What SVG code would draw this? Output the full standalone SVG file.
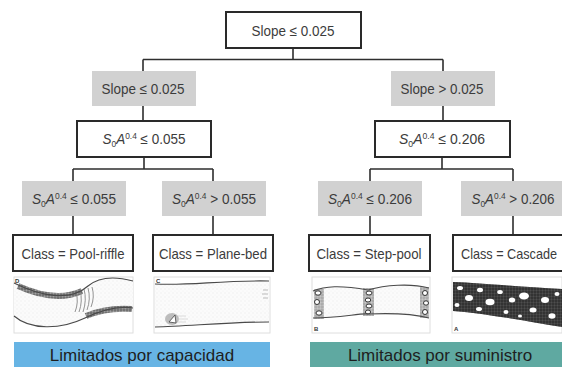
<svg xmlns="http://www.w3.org/2000/svg" width="562" height="367" viewBox="0 0 562 367">
  <style>
    .box { fill: #ffffff; stroke: #2a2a2a; stroke-width: 2; }
    .cond { fill: #d1d1d1; stroke: none; }
    .lbl { font-family: "Liberation Sans", Arial, sans-serif; font-size: 14.5px; fill: #3c3c3c; text-anchor: middle; }
    .it { font-style: italic; }
    .sm { font-size: 9px; }
    .wire { fill: none; stroke: #2e2e2e; stroke-width: 1.6; }
    .frame { fill: #ffffff; stroke: #dedede; stroke-width: 1; }
    .bank { fill: none; stroke: #4a4a4a; stroke-width: 1.1; }
    .tag { font-family: "Liberation Sans", Arial, sans-serif; font-size: 6px; font-weight: bold; fill: #333; }
    .band { font-family: "Liberation Sans", Arial, sans-serif; font-size: 17px; fill: #1e1e1e; text-anchor: middle; }
    .rock { fill: #ffffff; stroke: #333; stroke-width: 1; }
    .boulder { fill: #ffffff; stroke: none; }
  </style>
  <defs>
    <pattern id="stipple" width="4" height="4" patternUnits="userSpaceOnUse">
      <rect width="4" height="4" fill="#fbfbfb"/>
      <circle cx="1" cy="1" r="0.45" fill="#d6d6d6"/>
      <circle cx="3" cy="3" r="0.35" fill="#e0e0e0"/>
    </pattern>
    <pattern id="grain" width="3" height="3" patternUnits="userSpaceOnUse">
      <rect width="3" height="3" fill="#6a6a6a"/>
      <circle cx="1" cy="1" r="0.8" fill="#2a2a2a"/>
      <circle cx="2.5" cy="2.3" r="0.5" fill="#9a9a9a"/>
    </pattern>
  </defs>

  <!-- connectors -->
  <g id="connectors">
    <path class="wire" d="M293,48 V59.5 M143,59.5 H443 M143,59.5 V71 M443,59.5 V71"/>
    <path class="wire" d="M143,106 V121 M443,106 V121"/>
    <path class="wire" d="M144,157 V169 M73,169 H213 M73,169 V181 M213,169 V181"/>
    <path class="wire" d="M442,157 V169 M370,169 H513 M370,169 V181 M513,169 V181"/>
    <path class="wire" d="M73,216 V235 M213,216 V235 M370,216 V235 M513,216 V235"/>
  </g>

  <!-- root split -->
  <g id="root">
    <rect class="box" x="226" y="12" width="135" height="36"/>
    <text class="lbl" x="293" y="36" textLength="83" lengthAdjust="spacingAndGlyphs">Slope ≤ 0.025</text>
  </g>

  <!-- first-level conditions -->
  <g id="cond-slope-low">
    <rect class="cond" x="92" y="71" width="104" height="35"/>
    <text class="lbl" x="143" y="94" textLength="83" lengthAdjust="spacingAndGlyphs">Slope ≤ 0.025</text>
  </g>
  <g id="cond-slope-high">
    <rect class="cond" x="391" y="71" width="104" height="35"/>
    <text class="lbl" x="442" y="94" textLength="83" lengthAdjust="spacingAndGlyphs">Slope &gt; 0.025</text>
  </g>

  <!-- second-level splits -->
  <g id="split-low">
    <rect class="box" x="77" y="121" width="134" height="36"/>
    <text class="lbl" x="144" y="144" textLength="83" lengthAdjust="spacingAndGlyphs"><tspan class="it">S</tspan><tspan class="sm" dy="3">0</tspan><tspan class="it" dy="-3">A</tspan><tspan class="sm" dy="-5">0.4</tspan><tspan dy="5"> ≤ 0.055</tspan></text>
  </g>
  <g id="split-high">
    <rect class="box" x="375" y="121" width="135" height="36"/>
    <text class="lbl" x="442" y="144" textLength="86" lengthAdjust="spacingAndGlyphs"><tspan class="it">S</tspan><tspan class="sm" dy="3">0</tspan><tspan class="it" dy="-3">A</tspan><tspan class="sm" dy="-5">0.4</tspan><tspan dy="5"> ≤ 0.206</tspan></text>
  </g>

  <!-- second-level conditions -->
  <g id="cond-sa-low-1">
    <rect class="cond" x="22" y="181" width="104" height="35"/>
    <text class="lbl" x="74" y="204" textLength="84" lengthAdjust="spacingAndGlyphs"><tspan class="it">S</tspan><tspan class="sm" dy="3">0</tspan><tspan class="it" dy="-3">A</tspan><tspan class="sm" dy="-5">0.4</tspan><tspan dy="5"> ≤ 0.055</tspan></text>
  </g>
  <g id="cond-sa-low-2">
    <rect class="cond" x="162" y="181" width="104" height="35"/>
    <text class="lbl" x="214" y="204" textLength="84" lengthAdjust="spacingAndGlyphs"><tspan class="it">S</tspan><tspan class="sm" dy="3">0</tspan><tspan class="it" dy="-3">A</tspan><tspan class="sm" dy="-5">0.4</tspan><tspan dy="5"> &gt; 0.055</tspan></text>
  </g>
  <g id="cond-sa-high-1">
    <rect class="cond" x="318" y="181" width="104" height="35"/>
    <text class="lbl" x="370" y="204" textLength="84" lengthAdjust="spacingAndGlyphs"><tspan class="it">S</tspan><tspan class="sm" dy="3">0</tspan><tspan class="it" dy="-3">A</tspan><tspan class="sm" dy="-5">0.4</tspan><tspan dy="5"> ≤ 0.206</tspan></text>
  </g>
  <g id="cond-sa-high-2">
    <rect class="cond" x="461" y="181" width="104" height="35"/>
    <text class="lbl" x="513" y="204" textLength="83" lengthAdjust="spacingAndGlyphs"><tspan class="it">S</tspan><tspan class="sm" dy="3">0</tspan><tspan class="it" dy="-3">A</tspan><tspan class="sm" dy="-5">0.4</tspan><tspan dy="5"> &gt; 0.206</tspan></text>
  </g>

  <!-- leaf classes -->
  <g id="class-pool-riffle">
    <rect class="box" x="13" y="235" width="120" height="36"/>
    <text class="lbl" x="73" y="259" textLength="103" lengthAdjust="spacingAndGlyphs">Class = Pool-riffle</text>
  </g>
  <g id="class-plane-bed">
    <rect class="box" x="153" y="235" width="120" height="36"/>
    <text class="lbl" x="213" y="259" textLength="108" lengthAdjust="spacingAndGlyphs">Class = Plane-bed</text>
  </g>
  <g id="class-step-pool">
    <rect class="box" x="309" y="235" width="121" height="36"/>
    <text class="lbl" x="369" y="259" textLength="105" lengthAdjust="spacingAndGlyphs">Class = Step-pool</text>
  </g>
  <g id="class-cascade">
    <rect class="box" x="453" y="235" width="122" height="36"/>
    <text class="lbl" x="509" y="259" textLength="96" lengthAdjust="spacingAndGlyphs">Class = Cascade</text>
  </g>

  <!-- channel sketches -->
  <g id="sketch-pool-riffle">
    <rect class="frame" x="14" y="277" width="119" height="56"/>
    <path d="M14,283 C40,296 70,302 88,286 C100,276 118,277 133,281 L133,308 C120,306 105,308 85,318 C60,330 30,330 14,316 Z" fill="url(#stipple)"/>
    <path d="M18,286 C40,296 62,300 82,291" fill="none" stroke="url(#grain)" stroke-width="6" opacity="0.8"/>
    <path d="M86,316 C102,309 118,308 132,309" fill="none" stroke="url(#grain)" stroke-width="6" opacity="0.8"/>
    <path d="M76,292 q3,10 -1,20 M80,290 q3,11 -1,22 M84,289 q3,11 -1,23 M88,288 q3,11 -1,22 M92,287 q3,10 -1,20" fill="none" stroke="#7a7a7a" stroke-width="0.8"/>
    <path class="bank" d="M14,283 C40,296 70,302 88,286 C100,276 118,277 133,281"/>
    <path class="bank" d="M14,316 C30,330 60,330 85,318 C105,308 120,306 133,308"/>
    <text class="tag" x="15" y="283">D</text>
  </g>

  <g id="sketch-plane-bed">
    <rect class="frame" x="154" y="277" width="116" height="56"/>
    <path d="M155,284 C190,286 220,280 269,281 L269,322 C230,322 190,326 155,327 Z" fill="url(#stipple)"/>
    <ellipse cx="172" cy="319" rx="7" ry="6" fill="#8a8a8a" opacity="0.55"/>
    <path d="M169,322 L175,315 L176,323 Z" fill="#ffffff" stroke="#444" stroke-width="0.8"/>
    <path d="M178,316 h8 M178,319 h10 M178,322 h8" stroke="#cfcfcf" stroke-width="0.7"/>
    <path d="M263,290 h5 M262,294 h6 M263,298 h5" stroke="#aaa" stroke-width="0.8"/>
    <path class="bank" d="M155,284 C190,286 220,280 269,281"/>
    <path class="bank" d="M155,327 C190,326 230,322 269,322"/>
    <text class="tag" x="156" y="283">C</text>
  </g>

  <g id="sketch-step-pool">
    <rect class="frame" x="312" y="277" width="118" height="56"/>
    <path d="M313,291 C325,286 340,285 368,290 C385,285 410,283 429,288 L429,318 C410,313 390,313 368,314 C360,313 340,318 313,318 Z" fill="url(#stipple)"/>
    <rect x="314" y="289" width="10" height="30" fill="url(#grain)" opacity="0.45"/>
    <rect x="363" y="288" width="11" height="28" fill="url(#grain)" opacity="0.45"/>
    <rect x="420" y="287" width="9" height="31" fill="url(#grain)" opacity="0.45"/>
    <ellipse class="rock" cx="318" cy="293" rx="3" ry="2.2"/>
    <ellipse class="rock" cx="317" cy="302" rx="2.5" ry="2.5"/>
    <ellipse class="rock" cx="319" cy="313" rx="3" ry="2.2"/>
    <ellipse class="rock" cx="369" cy="293" rx="3" ry="2"/>
    <ellipse class="rock" cx="368" cy="300" rx="2.8" ry="2"/>
    <ellipse class="rock" cx="369" cy="306" rx="3" ry="2"/>
    <ellipse class="rock" cx="368" cy="312" rx="2.6" ry="2"/>
    <ellipse class="rock" cx="425" cy="293" rx="2.5" ry="2.5"/>
    <ellipse class="rock" cx="426" cy="303" rx="2.5" ry="2.2"/>
    <ellipse class="rock" cx="425" cy="312" rx="2.5" ry="2.5"/>
    <path class="bank" d="M313,291 C325,286 340,285 368,290 C385,285 410,283 429,288"/>
    <path class="bank" d="M313,318 C340,318 360,313 368,314 C390,313 410,313 429,318"/>
    <text class="tag" x="314" y="331">B</text>
  </g>

  <g id="sketch-cascade">
    <rect class="frame" x="452" y="277" width="110" height="56"/>
    <path d="M453,282 C480,283 520,287 562,289 L562,327 C530,322 490,314 453,311 Z" fill="url(#grain)"/>
    <path d="M453,282 C480,283 520,287 562,289 L562,327 C530,322 490,314 453,311 Z" fill="#1e1e1e" opacity="0.55"/>
    <ellipse class="boulder" cx="460" cy="288" rx="3" ry="2"/>
    <ellipse class="boulder" cx="469" cy="298" rx="4" ry="3"/>
    <ellipse class="boulder" cx="457" cy="305" rx="2.5" ry="2"/>
    <ellipse class="boulder" cx="480" cy="290" rx="3" ry="2.2"/>
    <ellipse class="boulder" cx="490" cy="302" rx="4.5" ry="3.2"/>
    <ellipse class="boulder" cx="500" cy="292" rx="2.8" ry="2"/>
    <ellipse class="boulder" cx="479" cy="309" rx="3" ry="2"/>
    <ellipse class="boulder" cx="512" cy="300" rx="3.2" ry="2.5"/>
    <ellipse class="boulder" cx="506" cy="312" rx="2.5" ry="2"/>
    <ellipse class="boulder" cx="524" cy="296" rx="5" ry="3.5"/>
    <ellipse class="boulder" cx="533" cy="310" rx="3.5" ry="2.5"/>
    <ellipse class="boulder" cx="545" cy="300" rx="4" ry="3"/>
    <ellipse class="boulder" cx="552" cy="316" rx="3.5" ry="2.8"/>
    <ellipse class="boulder" cx="520" cy="316" rx="2" ry="1.5"/>
    <ellipse class="boulder" cx="557" cy="294" rx="2.5" ry="2"/>
    <text class="tag" x="454" y="331">A</text>
  </g>

  <!-- regime bands -->
  <g id="band-capacity">
    <rect x="14" y="342" width="256" height="25" fill="#67b4e4"/>
    <text class="band" x="142" y="361">Limitados por capacidad</text>
  </g>
  <g id="band-supply">
    <rect x="310" y="342" width="252" height="25" fill="#5fa9a1"/>
    <text class="band" x="440" y="361">Limitados por suministro</text>
  </g>
</svg>
